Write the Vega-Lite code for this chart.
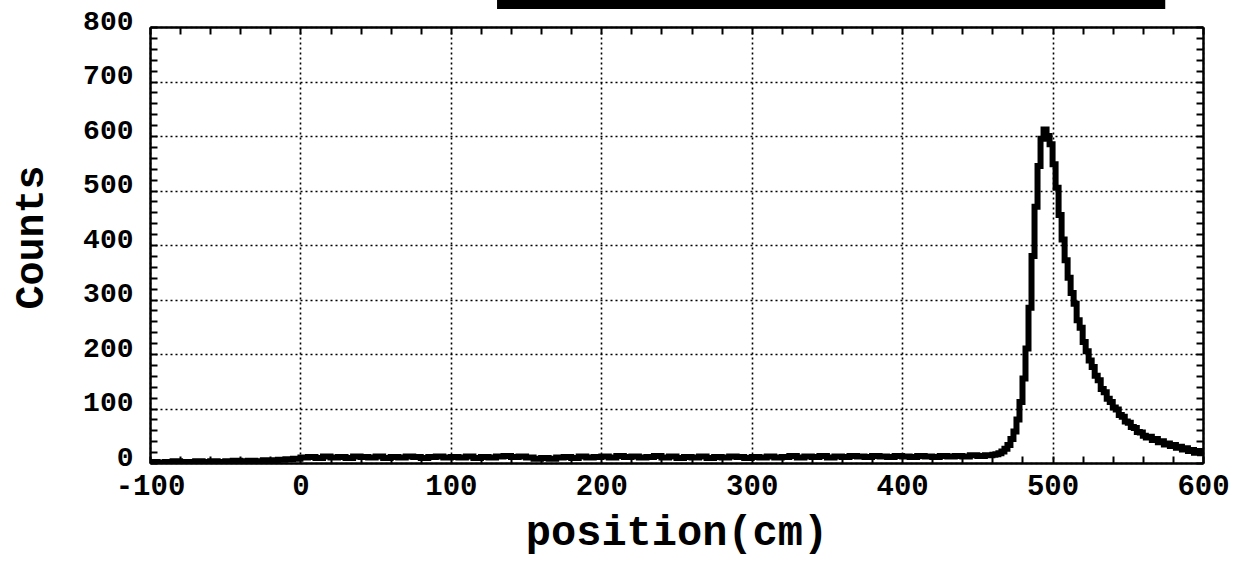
{
  "$schema": "https://vega.github.io/schema/vega-lite/v6.json",
  "width": 1053,
  "height": 436,
  "autosize": {"type": "none"},
  "padding": {"left": 150, "top": 27, "right": 36, "bottom": 98},
  "background": "white",
  "config": {
    "view": {"stroke": null},
    "axis": {
      "labelFont": "Liberation Mono",
      "labelFontWeight": "bold",
      "titleFont": "Liberation Mono",
      "titleFontWeight": "bold",
      "labelColor": "black",
      "titleColor": "black",
      "domainColor": "black",
      "tickColor": "black",
      "domainWidth": 2.5,
      "tickWidth": 2,
      "gridColor": "black",
      "gridDash": [2, 3],
      "gridWidth": 1.6,
      "labelOverlap": false,
      "labelBound": false,
      "labelFlush": false
    }
  },
  "datasets": {
    "hist": [
      {"position": -100, "counts": 2}, {"position": -95, "counts": 1}, {"position": -90, "counts": 2}, {"position": -85, "counts": 3},
      {"position": -80, "counts": 2}, {"position": -75, "counts": 2}, {"position": -70, "counts": 3}, {"position": -65, "counts": 2},
      {"position": -60, "counts": 3}, {"position": -55, "counts": 2}, {"position": -50, "counts": 3}, {"position": -45, "counts": 4},
      {"position": -40, "counts": 3}, {"position": -35, "counts": 4}, {"position": -30, "counts": 3}, {"position": -25, "counts": 5},
      {"position": -20, "counts": 5}, {"position": -15, "counts": 6}, {"position": -10, "counts": 7}, {"position": -5, "counts": 8},
      {"position": 0, "counts": 10}, {"position": 5, "counts": 11}, {"position": 10, "counts": 9}, {"position": 15, "counts": 12},
      {"position": 20, "counts": 10}, {"position": 25, "counts": 11}, {"position": 30, "counts": 9}, {"position": 35, "counts": 12},
      {"position": 40, "counts": 11}, {"position": 45, "counts": 10}, {"position": 50, "counts": 12}, {"position": 55, "counts": 9},
      {"position": 60, "counts": 11}, {"position": 65, "counts": 10}, {"position": 70, "counts": 12}, {"position": 75, "counts": 11},
      {"position": 80, "counts": 9}, {"position": 85, "counts": 11}, {"position": 90, "counts": 12}, {"position": 95, "counts": 10},
      {"position": 100, "counts": 11}, {"position": 105, "counts": 10}, {"position": 110, "counts": 12}, {"position": 115, "counts": 9},
      {"position": 120, "counts": 11}, {"position": 125, "counts": 10}, {"position": 130, "counts": 12}, {"position": 135, "counts": 13},
      {"position": 140, "counts": 11}, {"position": 145, "counts": 12}, {"position": 150, "counts": 10}, {"position": 155, "counts": 8},
      {"position": 160, "counts": 9}, {"position": 165, "counts": 8}, {"position": 170, "counts": 10}, {"position": 175, "counts": 11},
      {"position": 180, "counts": 9}, {"position": 185, "counts": 12}, {"position": 190, "counts": 10}, {"position": 195, "counts": 11},
      {"position": 200, "counts": 12}, {"position": 205, "counts": 10}, {"position": 210, "counts": 13}, {"position": 215, "counts": 11},
      {"position": 220, "counts": 12}, {"position": 225, "counts": 10}, {"position": 230, "counts": 11}, {"position": 235, "counts": 13},
      {"position": 240, "counts": 10}, {"position": 245, "counts": 12}, {"position": 250, "counts": 9}, {"position": 255, "counts": 11},
      {"position": 260, "counts": 10}, {"position": 265, "counts": 12}, {"position": 270, "counts": 9}, {"position": 275, "counts": 11},
      {"position": 280, "counts": 10}, {"position": 285, "counts": 12}, {"position": 290, "counts": 11}, {"position": 295, "counts": 9},
      {"position": 300, "counts": 11}, {"position": 305, "counts": 10}, {"position": 310, "counts": 12}, {"position": 315, "counts": 10},
      {"position": 320, "counts": 11}, {"position": 325, "counts": 13}, {"position": 330, "counts": 10}, {"position": 335, "counts": 12},
      {"position": 340, "counts": 11}, {"position": 345, "counts": 13}, {"position": 350, "counts": 10}, {"position": 355, "counts": 12},
      {"position": 360, "counts": 11}, {"position": 365, "counts": 13}, {"position": 370, "counts": 12}, {"position": 375, "counts": 11},
      {"position": 380, "counts": 13}, {"position": 385, "counts": 12}, {"position": 390, "counts": 11}, {"position": 395, "counts": 13},
      {"position": 400, "counts": 12}, {"position": 405, "counts": 11}, {"position": 410, "counts": 13}, {"position": 415, "counts": 12},
      {"position": 420, "counts": 11}, {"position": 425, "counts": 13}, {"position": 430, "counts": 12}, {"position": 435, "counts": 13},
      {"position": 440, "counts": 12}, {"position": 445, "counts": 14}, {"position": 450, "counts": 13}, {"position": 455, "counts": 14},
      {"position": 460, "counts": 15}, {"position": 462, "counts": 16}, {"position": 464, "counts": 18}, {"position": 466, "counts": 21},
      {"position": 468, "counts": 26}, {"position": 470, "counts": 33}, {"position": 472, "counts": 44}, {"position": 474, "counts": 58},
      {"position": 476, "counts": 80}, {"position": 478, "counts": 112}, {"position": 480, "counts": 155}, {"position": 482, "counts": 210},
      {"position": 484, "counts": 285}, {"position": 486, "counts": 380}, {"position": 488, "counts": 470}, {"position": 490, "counts": 545},
      {"position": 492, "counts": 595}, {"position": 494, "counts": 612}, {"position": 496, "counts": 600}, {"position": 498, "counts": 585},
      {"position": 500, "counts": 548}, {"position": 502, "counts": 505}, {"position": 504, "counts": 455}, {"position": 506, "counts": 410},
      {"position": 508, "counts": 372}, {"position": 510, "counts": 340}, {"position": 512, "counts": 312}, {"position": 514, "counts": 292},
      {"position": 516, "counts": 262}, {"position": 518, "counts": 248}, {"position": 520, "counts": 222}, {"position": 522, "counts": 205},
      {"position": 524, "counts": 188}, {"position": 526, "counts": 176}, {"position": 528, "counts": 160}, {"position": 530, "counts": 152},
      {"position": 532, "counts": 136}, {"position": 534, "counts": 130}, {"position": 536, "counts": 118}, {"position": 538, "counts": 112},
      {"position": 540, "counts": 102}, {"position": 542, "counts": 98}, {"position": 544, "counts": 88}, {"position": 546, "counts": 85},
      {"position": 548, "counts": 76}, {"position": 550, "counts": 74}, {"position": 552, "counts": 66}, {"position": 554, "counts": 64},
      {"position": 556, "counts": 57}, {"position": 558, "counts": 56}, {"position": 560, "counts": 50}, {"position": 562, "counts": 47},
      {"position": 564, "counts": 48}, {"position": 566, "counts": 42}, {"position": 568, "counts": 44}, {"position": 570, "counts": 38},
      {"position": 572, "counts": 40}, {"position": 574, "counts": 34}, {"position": 576, "counts": 36}, {"position": 578, "counts": 31},
      {"position": 580, "counts": 33}, {"position": 582, "counts": 28}, {"position": 584, "counts": 30}, {"position": 586, "counts": 25},
      {"position": 588, "counts": 27}, {"position": 590, "counts": 22}, {"position": 592, "counts": 24}, {"position": 594, "counts": 19},
      {"position": 596, "counts": 22}, {"position": 598, "counts": 18}, {"position": 600, "counts": 20}
    ],
    "bar": [{"x1": 130.7, "x2": 574.9, "y1": 833, "y2": 849.5}]
  },
  "layer": [
    {
      "data": {"name": "hist"},
      "mark": {"type": "line", "interpolate": "step-after", "color": "black", "strokeWidth": 6, "clip": true},
      "encoding": {
        "x": {
          "field": "position", "type": "quantitative",
          "scale": {"domain": [-100, 600], "nice": false, "zero": false},
          "axis": {
            "orient": "bottom",
            "values": [-100, -80, -60, -40, -20, 0, 20, 40, 60, 80, 100, 120, 140, 160, 180, 200, 220, 240, 260, 280, 300, 320, 340, 360, 380, 400, 420, 440, 460, 480, 500, 520, 540, 560, 580, 600],
            "tickSize": -7,
            "labelExpr": "datum.value % 100 === 0 ? '' + datum.value : ''",
            "labelFontSize": 29,
            "labelPadding": 15,
            "grid": true,
            "gridOpacity": {"condition": {"test": "datum.value % 100 === 0", "value": 1}, "value": 0},
            "title": "position(cm)",
            "titleFontSize": 42,
            "titlePadding": 11
          }
        },
        "y": {
          "field": "counts", "type": "quantitative",
          "scale": {"domain": [0, 800], "nice": false, "zero": true},
          "axis": {
            "orient": "left",
            "values": [0, 20, 40, 60, 80, 100, 120, 140, 160, 180, 200, 220, 240, 260, 280, 300, 320, 340, 360, 380, 400, 420, 440, 460, 480, 500, 520, 540, 560, 580, 600, 620, 640, 660, 680, 700, 720, 740, 760, 780, 800],
            "tickSize": -7,
            "labelExpr": "datum.value % 100 === 0 ? '' + datum.value : ''",
            "labelFontSize": 28,
            "labelPadding": 24,
            "labelOffset": -6,
            "grid": true,
            "gridOpacity": {"condition": {"test": "datum.value % 100 === 0", "value": 1}, "value": 0},
            "title": "Counts",
            "titleFontSize": 40,
            "titlePadding": 32,
            "titleY": 210
          }
        }
      }
    },
    {
      "data": {"name": "hist"},
      "mark": {"type": "point", "opacity": 0},
      "encoding": {
        "x": {
          "field": "position", "type": "quantitative",
          "axis": {
            "orient": "top",
            "values": [-100, -80, -60, -40, -20, 0, 20, 40, 60, 80, 100, 120, 140, 160, 180, 200, 220, 240, 260, 280, 300, 320, 340, 360, 380, 400, 420, 440, 460, 480, 500, 520, 540, 560, 580, 600],
            "tickSize": -7,
            "labels": false,
            "grid": false,
            "title": null
          }
        },
        "y": {
          "field": "counts", "type": "quantitative",
          "axis": {
            "orient": "right",
            "values": [0, 20, 40, 60, 80, 100, 120, 140, 160, 180, 200, 220, 240, 260, 280, 300, 320, 340, 360, 380, 400, 420, 440, 460, 480, 500, 520, 540, 560, 580, 600, 620, 640, 660, 680, 700, 720, 740, 760, 780, 800],
            "tickSize": -7,
            "labels": false,
            "grid": false,
            "title": null
          }
        }
      }
    },
    {
      "data": {"name": "bar"},
      "mark": {"type": "rect", "color": "black", "clip": false},
      "encoding": {
        "x": {"field": "x1", "type": "quantitative", "axis": null},
        "x2": {"field": "x2"},
        "y": {"field": "y1", "type": "quantitative", "axis": null},
        "y2": {"field": "y2"}
      }
    }
  ],
  "resolve": {"axis": {"x": "independent", "y": "independent"}}
}
